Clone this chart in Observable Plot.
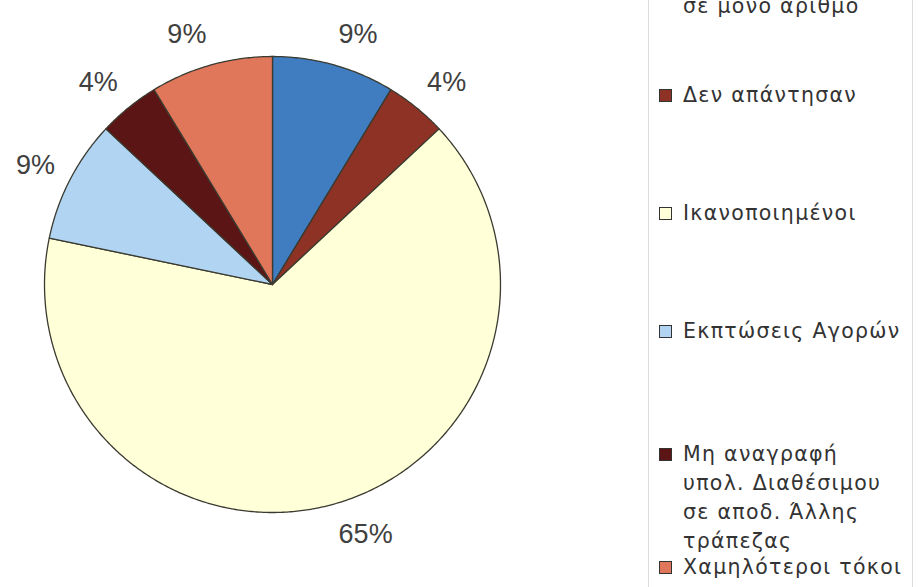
<!DOCTYPE html>
<html>
<head>
<meta charset="utf-8">
<script src="https://cdn.jsdelivr.net/npm/d3@7"></script>
<script src="https://cdn.jsdelivr.net/npm/@observablehq/plot@0.6"></script>
<style>
  html, body { margin: 0; padding: 0; background: #fff; }
  #wrap { position: relative; width: 918px; height: 587px; overflow: hidden; font-family: "Liberation Sans", Arial, sans-serif; }
  #chart { position: absolute; left: 0; top: 0; }
  #legend { position: absolute; left: 648px; top: -10px; width: 263px; height: 610px; border-left: 1px solid #dcdcdc; border-right: 1px solid #dcdcdc; }
  .item { position: absolute; left: 10px; width: 260px; }
  .sw { position: absolute; left: 0px; width: 11px; height: 11px; border: 1px solid #333; }
  .txt { position: absolute; left: 24px; white-space: nowrap; font-family: "DejaVu Sans", sans-serif; font-size: 20.5px; letter-spacing: 1.3px; line-height: 29px; color: #333; }
</style>
</head>
<body>
<div id="wrap">
  <div id="chart"></div>
  <div id="legend"></div>
</div>
<script>
// Data (respondent counts, 23 total)
const categories = [
  "σε μόνο αριθμό",
  "Δεν απάντησαν",
  "Ικανοποιημένοι",
  "Εκπτώσεις Αγορών",
  "Μη αναγραφή υπολ. Διαθέσιμου σε αποδ. Άλλης τράπεζας",
  "Χαμηλότεροι τόκοι"
];
const values = [2, 1, 15, 2, 1, 2];
// Legend label lines (first line of the first entry lies above the picture)
const legendLines = [
  ["", "σε μόνο αριθμό"],
  ["Δεν απάντησαν"],
  ["Ικανοποιημένοι"],
  ["Εκπτώσεις Αγορών"],
  ["Μη αναγραφή", "υπολ. Διαθέσιμου", "σε αποδ. Άλλης", "τράπεζας"],
  ["Χαμηλότεροι τόκοι"]
];
const colors = ["#3f7cc0", "#8e3226", "#ffffd8", "#b0d4f1", "#5c1515", "#e0775a"];

const W = 918, H = 587, cx = 272, cy = 284, R = 228;
const total = d3.sum(values);
const data = categories.map((c, i) => ({category: c, value: values[i]}));
const arcs = d3.pie().sort(null).value(d => d.value).startAngle(0).endAngle(2 * Math.PI)(data);

// polygon points per slice (unit circle coordinates)
const pts = [];
for (const a of arcs) {
  const c = a.data.category;
  pts.push({category: c, x: 0, y: 0});
  const n = Math.max(2, Math.ceil((a.endAngle - a.startAngle) / (Math.PI / 360)));
  for (let k = 0; k <= n; k++) {
    const t = a.startAngle + (a.endAngle - a.startAngle) * k / n;
    pts.push({category: c, x: Math.sin(t), y: Math.cos(t)});
  }
}

// labels
const gap = 17 / R, halfH = 15 / R;
const labels = arcs.map(a => {
  const m = (a.startAngle + a.endAngle) / 2;
  return {
    text: d3.format(".0%")(a.data.value / total),
    x: Math.sin(m) * (1 + gap),
    y: Math.cos(m) * (1 + gap) + Math.cos(m) * halfH,
    right: Math.sin(m) >= 0
  };
});

const chart = Plot.plot({
  width: W, height: H,
  margin: 0,
  x: {domain: [-1, 1], range: [cx - R, cx + R], axis: null},
  y: {domain: [-1, 1], range: [cy + R, cy - R], axis: null},
  color: {domain: categories, range: colors},
  style: {background: "transparent"},
  marks: [
    Plot.line(pts, {x: "x", y: "y", z: "category", fill: "category", stroke: "#3a3a30", strokeWidth: 1.3, curve: "linear-closed"}),
    Plot.text(labels.filter(d => d.right), {x: "x", y: "y", text: "text", textAnchor: "start", fontSize: 27, fill: "#404040", fontFamily: "Liberation Sans, Arial, sans-serif"}),
    Plot.text(labels.filter(d => !d.right), {x: "x", y: "y", text: "text", textAnchor: "end", fontSize: 27, fill: "#404040", fontFamily: "Liberation Sans, Arial, sans-serif"})
  ]
});
document.getElementById("chart").appendChild(chart);

// legend
const legend = document.getElementById("legend");
const step = 118, firstTop = 95 + 10 - step; // first-line centre of entry 0 (in legend coords)
categories.forEach((c, i) => {
  const centre = firstTop + i * step + (legendLines[i].length > 3 ? 5 : 0);
  const item = document.createElement("div");
  item.className = "item";
  item.style.top = (centre - 14.5) + "px";
  const sw = document.createElement("div");
  sw.className = "sw";
  sw.style.background = colors[i];
  sw.style.top = "8px";
  const tx = document.createElement("div");
  tx.className = "txt";
  tx.innerHTML = legendLines[i].map(l => l === "" ? "&nbsp;" : l).join("<br>");
  item.appendChild(sw);
  item.appendChild(tx);
  legend.appendChild(item);
});
</script>
</body>
</html>
